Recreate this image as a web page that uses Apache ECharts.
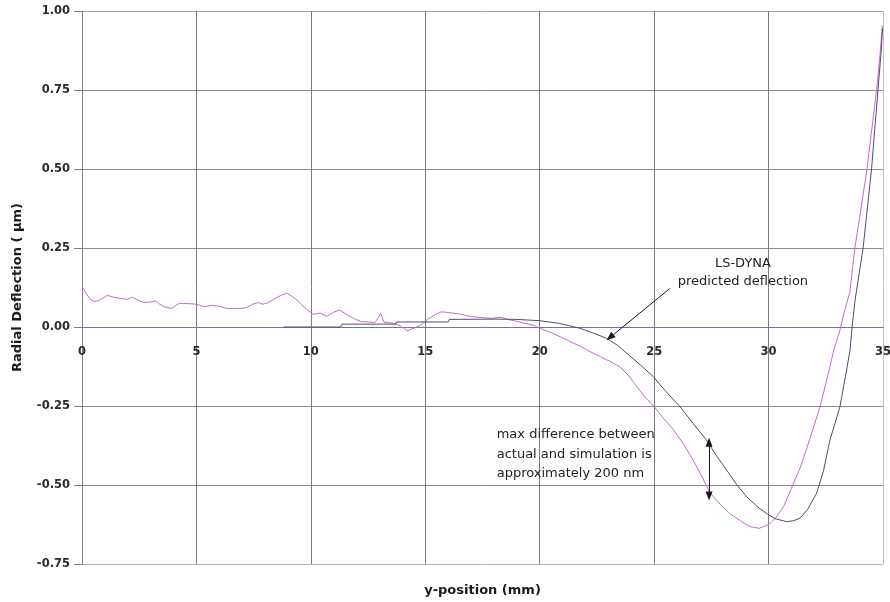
<!DOCTYPE html>
<html>
<head>
<meta charset="utf-8">
<script src="https://cdn.jsdelivr.net/npm/echarts@6/dist/echarts.min.js"></script>
<style>
  html, body { margin: 0; padding: 0; background: #ffffff; }
  #chart { width: 890px; height: 602px; }
</style>
</head>
<body>
<div id="chart"></div>
<script>
// Measured radial deflection (µm) along the y-position (mm)
const measuredX = [0.00, 0.15, 0.35, 0.55, 0.8, 1.1, 1.4, 1.7, 2.0, 2.2, 2.45, 2.7, 3.0, 3.2, 3.4, 3.6, 3.9, 4.1, 4.25, 4.6,
  4.9, 5.1, 5.35, 5.6, 6.0, 6.3, 6.7, 7.0, 7.2, 7.45, 7.7, 7.9, 8.1, 8.35, 8.55, 8.75, 8.95, 9.15, 9.35, 9.6,
  9.85, 10.1, 10.4, 10.7, 10.95, 11.25, 11.6, 11.9, 12.2, 12.5, 12.8, 12.95, 13.05, 13.2, 13.6, 13.9, 14.2, 14.5, 14.8, 15.1,
  15.4, 15.7, 16.0, 16.5, 17.0, 17.5, 17.9, 18.3, 18.6, 19.0, 19.3, 19.7, 20.0, 20.5, 20.9, 21.3, 21.8, 22.2, 22.65, 23.1,
  23.5, 23.9, 24.25, 24.6, 25.0, 25.4, 25.85, 26.3, 26.7, 27.1, 27.45, 27.9, 28.3, 28.8, 29.2, 29.6, 30.0, 30.3, 30.65, 31.0,
  31.4, 31.8, 32.25, 32.6, 32.85, 33.1, 33.3, 33.55, 33.77, 34.05, 34.3, 34.5, 34.72, 34.88, 34.97];
const measuredY = [0.128, 0.110, 0.088, 0.080, 0.086, 0.100, 0.094, 0.090, 0.088, 0.094, 0.085, 0.077, 0.079, 0.083, 0.072, 0.064, 0.059, 0.068, 0.075, 0.074,
  0.073, 0.070, 0.064, 0.068, 0.066, 0.059, 0.058, 0.059, 0.062, 0.072, 0.077, 0.072, 0.076, 0.086, 0.095, 0.102, 0.107, 0.098, 0.088, 0.070,
  0.054, 0.040, 0.044, 0.034, 0.045, 0.054, 0.038, 0.026, 0.017, 0.016, 0.014, 0.030, 0.043, 0.015, 0.012, 0.004, -0.012, -0.004, 0.006, 0.024,
  0.038, 0.048, 0.046, 0.041, 0.033, 0.030, 0.027, 0.031, 0.024, 0.018, 0.012, 0.006, -0.004, -0.018, -0.031, -0.045, -0.062, -0.078, -0.094, -0.110,
  -0.126, -0.155, -0.189, -0.222, -0.252, -0.288, -0.326, -0.372, -0.421, -0.475, -0.526, -0.562, -0.590, -0.615, -0.632, -0.637, -0.625, -0.605, -0.569, -0.510,
  -0.442, -0.355, -0.252, -0.150, -0.073, -0.015, 0.045, 0.110, 0.250, 0.380, 0.500, 0.620, 0.750, 0.870, 0.955];

// LS-DYNA simulated deflection
const simX = [8.8, 11.3, 11.35, 13.7, 13.75, 16.0, 16.05, 18.0, 19.0, 20.0, 20.8, 21.3, 21.76, 22.3, 22.93, 23.4, 23.8, 24.4, 24.96, 25.5,
  26.13, 26.7, 27.29, 27.7, 28.17, 28.6, 29.04, 29.5, 29.91, 30.3, 30.79, 31.1, 31.37, 31.7, 32.1, 32.4, 32.68, 32.9, 33.12, 33.35,
  33.56, 33.65, 33.78, 34.13, 34.5, 34.78, 34.92, 34.98];
const simY = [0.000, 0.000, 0.009, 0.009, 0.016, 0.016, 0.024, 0.025, 0.024, 0.020, 0.012, 0.004, -0.004, -0.018, -0.036, -0.058, -0.083, -0.120, -0.157, -0.203,
  -0.252, -0.305, -0.358, -0.405, -0.453, -0.498, -0.537, -0.568, -0.590, -0.607, -0.616, -0.613, -0.605, -0.578, -0.526, -0.455, -0.358, -0.305, -0.252, -0.160,
  -0.073, 0.000, 0.085, 0.250, 0.500, 0.750, 0.870, 0.945];

// Axis ranges
const xRange = [0, 35, 5];
const yRange = [-0.75, 1.0, 0.25];

// Callouts (data coordinates)
const simCalloutText = 'LS-DYNA\npredicted deflection';
const simCalloutAt = [28.88, 0.171];
const simArrow = [[25.69, 0.122], [23.07, -0.033]];
const diffCalloutText = 'max difference between\nactual and simulation is\napproximately 200 nm';
const diffCalloutAt = [18.12, -0.403];
const diffArrow = [[27.4, -0.365], [27.4, -0.535]];

const pairs = (xs, ys) => xs.map((x, i) => [x, ys[i]]);
const FONT = 'DejaVu Sans';

const chart = echarts.init(document.getElementById('chart'), null, { renderer: 'canvas' });

chart.setOption({
  animation: false,
  backgroundColor: '#ffffff',
  grid: { left: 82, right: 7, top: 11, bottom: 38, containLabel: false, outerBoundsMode: 'none' },
  xAxis: {
    type: 'value',
    position: 'bottom',
    offset: 0,
    min: xRange[0], max: xRange[1], interval: xRange[2],
    axisLine: { onZero: false, lineStyle: { color: '#7474a4', width: 1 } },
    axisTick: { show: false },
    axisLabel: { fontFamily: FONT, fontWeight: 'bold', fontSize: 11.5, color: '#2a2a2a', margin: 19 },
    splitLine: { show: true, lineStyle: { color: ['#808080', '#7c7c7c', '#7c7c7c', '#7c7c7c', '#7c7c7c', '#7c7c7c', '#7c7c7c', '#c4c4c4'], width: 1 } }
  },
  yAxis: {
    type: 'value',
    min: yRange[0], max: yRange[1], interval: yRange[2],
    name: 'Radial Deflection ( \u03bcm)',
    nameLocation: 'middle',
    nameRotate: 90,
    nameGap: 58,
    nameTextStyle: { fontFamily: FONT, fontWeight: 'bold', fontSize: 13, color: '#1a1a1a' },
    axisLine: { show: true, lineStyle: { color: '#808080', width: 1 } },
    axisTick: { show: true, inside: false, length: 8, lineStyle: { color: '#808080' } },
    axisLabel: {
      fontFamily: FONT, fontWeight: 'bold', fontSize: 11.5, color: '#2a2a2a', margin: 12,
      formatter: v => v.toFixed(2)
    },
    splitLine: { show: true, lineStyle: { color: ['#b4b4b4', '#8c8c8c', '#8c8c8c', '#8c8c8c', '#8c8c8c', '#8c8c8c', '#8c8c8c', '#a8a8a8'], width: 1 } }
  },
  series: [
    {
      name: 'Measured',
      type: 'line',
      data: pairs(measuredX, measuredY),
      showSymbol: false,
      smooth: false,
      lineStyle: { color: '#c46ccc', width: 1 },
      z: 3
    },
    {
      name: 'LS-DYNA',
      type: 'line',
      data: pairs(simX, simY),
      showSymbol: false,
      smooth: false,
      lineStyle: { color: '#4e4e6e', width: 1 },
      z: 4,
      markLine: {
        silent: true,
        animation: false,
        label: { show: false },
        lineStyle: { color: '#1a1a1a', width: 1, type: 'solid' },
        symbolSize: [7, 9],
        data: [
          [{ coord: simArrow[0], symbol: 'none' }, { coord: simArrow[1], symbol: 'triangle' }],
          [{ coord: diffArrow[0], symbol: 'triangle' }, { coord: diffArrow[1], symbol: 'triangle' }]
        ]
      }
    }
  ]
});

// Move the x axis (line and labels) up so it crosses the y axis at zero
const grid = chart.getModel().getComponent('grid', 0).coordinateSystem.getRect();
const zeroY = chart.convertToPixel({ yAxisIndex: 0 }, 0);
const gridBottom = grid.y + grid.height;

// Axis title below the plot and callout texts anchored in data space
const p1 = chart.convertToPixel({ gridIndex: 0 }, simCalloutAt);
const p2 = chart.convertToPixel({ gridIndex: 0 }, diffCalloutAt);
chart.setOption({
  xAxis: { offset: -(gridBottom - zeroY) },
  graphic: [
    {
      type: 'text', x: grid.x + grid.width / 2, y: gridBottom + 27, z: 10,
      style: {
        text: 'y-position (mm)', fontFamily: FONT, fontWeight: 'bold', fontSize: 13,
        fill: '#1a1a1a', align: 'center', verticalAlign: 'middle'
      }
    },
    {
      type: 'text', x: p1[0], y: p1[1], z: 10,
      style: {
        text: simCalloutText, fontFamily: FONT, fontSize: 13, lineHeight: 18,
        fill: '#222222', align: 'center', verticalAlign: 'middle'
      }
    },
    {
      type: 'text', x: p2[0], y: p2[1], z: 10,
      style: {
        text: diffCalloutText, fontFamily: FONT, fontSize: 13, lineHeight: 19.5,
        fill: '#222222', align: 'left', verticalAlign: 'middle'
      }
    }
  ]
});
</script>
</body>
</html>
